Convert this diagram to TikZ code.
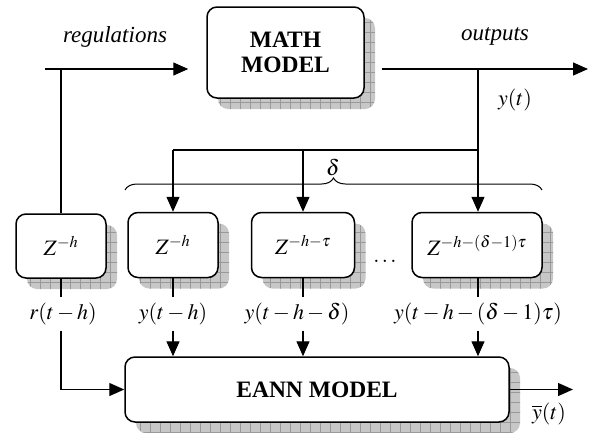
\documentclass[tikz,border=0pt]{standalone}
\usepackage{mathptmx}
\usepackage[no-math]{fontspec}
\setmainfont{Liberation Serif}
\usetikzlibrary{arrows.meta}
\usetikzlibrary{shadows}
\usetikzlibrary{patterns.meta}
\usetikzlibrary{decorations.pathreplacing}
\usetikzlibrary{positioning}

\begin{document}
\begin{tikzpicture}[x=1pt, y=-1pt, line width=1.3pt,
    font=\fontsize{22}{25}\selectfont,
    >={Triangle[length=15pt, width=13pt]},
    block/.style={draw, rounded corners=10pt, line width=1.5pt, fill=white,
        align=center, inner sep=0pt,
        general shadow={shadow xshift=11pt, shadow yshift=-11pt, fill=black!22,
            postaction={pattern={Hatch[angle=0, distance=10pt, line width=0.4pt]},
                pattern color=black!40}}},
    title/.style={font=\fontsize{23.5}{24.5}\selectfont\bfseries},
    lab/.style={inner sep=0pt, minimum height=32pt},
    word/.style={font=\fontsize{23}{26}\selectfont\itshape}]

    \useasboundingbox (0,0) rectangle (595,432);

    % Draw blocks
    \node [block, title, minimum width=157pt, minimum height=91pt] (math) at (285.5,52.5)
        {MATH\\MODEL};
    \node [block, minimum width=90pt, minimum height=64pt] (zr) at (61,246) {$Z^{-h}$};
    \node [block, minimum width=90pt, minimum height=65pt] (z1) at (173,245) {$Z^{-h}$};
    \node [block, minimum width=103pt, minimum height=65pt] (z2) at (303,245) {$Z^{-h-\tau}$};
    \node [block, minimum width=130pt, minimum height=65pt] (zn) at (477,245) {$Z^{-h-(\delta-1)\tau}$};
    \node [block, title, minimum width=384pt, minimum height=65pt] (eann) at (317,389.5)
        {EANN MODEL};
    \node (dots) at (385,261) {$\dots$};

    % Draw points
    \coordinate (regin) at (45,69);
    \coordinate (split) at (478,69);
    \coordinate (outend) at (588,69);
    \coordinate (tap) at (478,150);
    \coordinate (yend) at (573,389.5);

    % Draw texts
    \node [word] (reg) at (115,37) {regulations};
    \node [word] (outs) at (495,36) {outputs};
    \node (yt) at (515,100) {$y(t)$};
    \node (delta) at (333,167) {$\delta$};
    \node (ybar) at (549,414) {$\overline{y}(t)$};

    % Draw labels
    \node [lab] (lr) at (63,314) {$r(t-h)$};
    \node [lab] (l1) at (173,314) {$y(t-h)$};
    \node [lab] (l2) at (297,314) {$y(t-h-\delta)$};
    \node [lab] (ln) at (478,314) {$y(t-h-(\delta-1)\tau)$};

    % Draw arrows
    \draw [->, shorten >=18pt] (regin) -- (regin -| math.west);
    \draw [->, shorten <=17pt] (math.east |- regin) -- (outend);
    \draw (zr.north |- regin) -- (zr.north);
    \draw (split) -- (tap) -- (tap -| z1.north);
    \draw [->] (tap -| z1.north) -- (z1.north);
    \draw [->] (tap -| z2.north) -- (z2.north);
    \draw [->] (tap) -- (tap |- zn.north);
    \draw (zr.south) -- (zr.south |- lr.north);
    \draw (z1) -- (l1);
    \draw (z2.south) -- (z2.south |- l2.north);
    \draw (zn.south -| ln) -- (ln);
    \draw [->] (zr.south |- lr.south) |- (eann.west);
    \draw [->] (l1.south) -- (l1 |- eann.north);
    \draw [->] (z2.south |- l2.south) -- (z2.south |- eann.north);
    \draw [->] (ln.south) -- (ln |- eann.north);
    \draw [->] (eann.east) -- (yend);

    % Draw brace
    \draw [line width=1pt, decorate, decoration={brace, amplitude=12pt}]
        (125,190) -- (542,190);

\end{tikzpicture}
\end{document}
